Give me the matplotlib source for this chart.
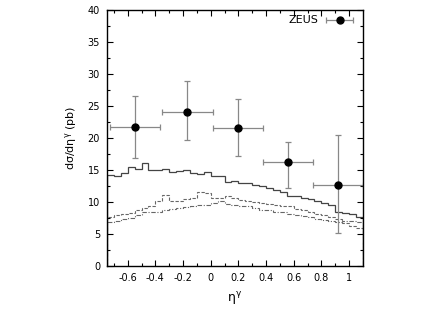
import numpy as np
import matplotlib.pyplot as plt
from matplotlib.container import ErrorbarContainer
from matplotlib.legend_handler import HandlerErrorbar

# ZEUS data points
eta = [-0.55, -0.17, 0.20, 0.56, 0.92]
eta_err = [0.18, 0.185, 0.18, 0.18, 0.18]
xsec = [21.7, 24.0, 21.5, 16.3, 12.7]
err_up = [4.9, 4.9, 4.6, 3.1, 7.8]
err_dn = [4.9, 4.3, 4.3, 4.1, 7.5]

# theory histograms, bins of 0.05 from -0.75 to 1.1
edges = np.round(np.arange(-0.75, 1.1001, 0.05), 3)
solid = [14.2, 14.0, 14.6, 15.4, 15.2, 16.1, 15.0, 15.0, 15.1, 14.7,
         14.9, 15.0, 14.6, 14.3, 14.7, 14.1, 14.0, 13.1, 13.3, 13.0,
         12.9, 12.6, 12.5, 12.2, 11.9, 11.5, 11.0, 11.0, 10.7, 10.5,
         10.1, 9.8, 9.6, 8.5, 8.3, 8.1, 7.7]
dashed = [7.7, 7.9, 8.1, 8.3, 8.7, 9.0, 9.3, 10.1, 11.1, 10.2,
          10.2, 10.4, 10.6, 11.5, 11.4, 10.6, 10.7, 11.0, 10.6, 10.3,
          10.1, 10.0, 9.8, 9.7, 9.6, 9.4, 9.3, 8.9, 8.8, 8.5,
          8.2, 8.0, 7.6, 7.3, 6.7, 6.3, 5.9]
dashdot = [6.9, 7.1, 7.3, 7.5, 7.9, 8.4, 8.4, 8.5, 8.7, 8.9,
           9.0, 9.2, 9.3, 9.5, 9.6, 9.8, 10.2, 9.7, 9.6, 9.4,
           9.3, 9.1, 8.8, 8.7, 8.5, 8.4, 8.2, 8.0, 7.8, 7.6,
           7.3, 7.2, 7.0, 6.9, 7.0, 7.1, 6.9]

fig = plt.figure(figsize=(4.42, 3.09), dpi=100)
ax = fig.add_axes([0.242, 0.139, 0.579, 0.829])

ax.stairs(solid, edges, color='#444444', lw=0.9, ls='-')
ax.stairs(dashed, edges, color='#666666', lw=0.8, ls=(0, (3, 1.5)))
ax.stairs(dashdot, edges, color='#666666', lw=0.8, ls=(0, (4, 1.5, 1, 1.5)))

eb = ax.errorbar(eta, xsec, xerr=eta_err, yerr=[err_dn, err_up], fmt='o',
                 color='black', ms=5, ecolor='#888888', elinewidth=0.9,
                 capsize=2, capthick=0.9)

# legend shows only the horizontal bar
proxy = ErrorbarContainer(eb.lines, has_xerr=True, has_yerr=False)
ax.legend([proxy], ['ZEUS'], loc='upper right', frameon=False,
          markerfirst=False, fontsize=8, handlelength=3.2,
          borderaxespad=0.2, borderpad=0.3, handletextpad=0.3,
          handler_map={ErrorbarContainer: HandlerErrorbar(xerr_size=1.2)})

ax.set_xlim(-0.75, 1.1)
ax.set_ylim(0, 40)
ax.set_xticks([-0.6, -0.4, -0.2, 0, 0.2, 0.4, 0.6, 0.8, 1])
ax.set_xticklabels(['-0.6', '-0.4', '-0.2', '0', '0.2', '0.4', '0.6', '0.8', '1'])
ax.set_xticks(np.arange(-0.7, 1.1, 0.1), minor=True)
ax.set_yticks(np.arange(0, 41, 5))
ax.set_yticks(np.arange(0, 41, 2.5), minor=True)
ax.tick_params(which='both', direction='in', top=True, right=True,
               labelsize=7, width=0.8)
ax.tick_params(which='major', length=4, pad=5)
ax.tick_params(which='minor', length=2)
for s in ax.spines.values():
    s.set_linewidth(1.0)

ax.set_xlabel(r'$\mathregular{\eta^{\gamma}}$', fontsize=9, labelpad=5)
ax.set_ylabel(r'$\mathregular{d\sigma/d\eta^{\gamma}}$ (pb)', fontsize=8, labelpad=6)

fig.savefig('out.png', dpi=100)
